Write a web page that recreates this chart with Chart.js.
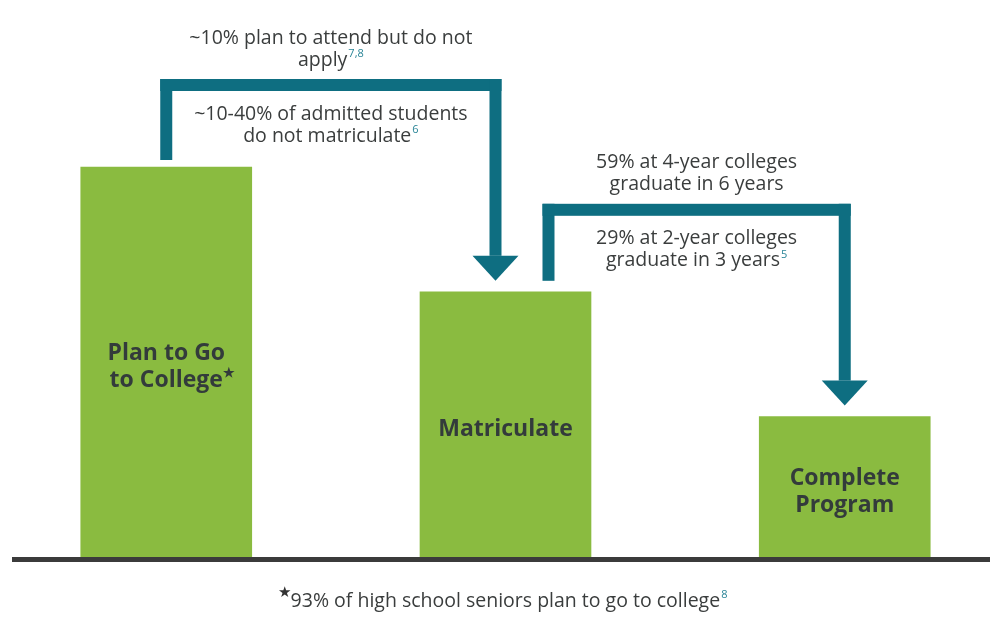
<!DOCTYPE html>
<html>
<head>
<meta charset="utf-8">
<script src="https://cdn.jsdelivr.net/npm/chart.js@4.4.0/dist/chart.umd.min.js"></script>
<style>
  html, body { margin: 0; padding: 0; background: #fff; }
  #wrap { width: 1008px; height: 632px; position: relative; }
</style>
</head>
<body>
<div id="wrap"><canvas id="funnelChart"></canvas></div>
<script>
// Data
var categories = ['Plan to Go to College', 'Matriculate', 'Complete Program'];
var barLabels = [['Plan to Go', 'to College'], ['Matriculate'], ['Complete', 'Program']];
var values = [100, 68, 36];

// notes above / below each arrow, with superscript refs
var notesAbove = [
    [['~10% plan to attend but do not', ''], ['apply', '7,8']],
    [['59% at 4-year colleges', ''], ['graduate in 6 years', '']]
];
var notesBelow = [
    [['~10-40% of admitted students', ''], ['do not matriculate', '6']],
    [['29% at 2-year colleges', ''], ['graduate in 3 years', '5']]
];
var footnote = ['93% of high school seniors plan to go to college', '8'];

var GREEN = '#8abb40';
var TEAL = '#0e6e81';
var TEXT = '#3a3d3d';
var FONT = '"Open Sans", sans-serif';
var NOTE_SIZE = 19.5;

function lineWithSup(ctx, text, sup, cx, cy, size) {
    ctx.font = size + 'px ' + FONT;
    var w = ctx.measureText(text).width;
    ctx.font = Math.round(size * 0.55) + 'px ' + FONT;
    var sw = sup ? ctx.measureText(sup).width + 1 : 0;
    var x = cx - (w + sw) / 2;
    ctx.textAlign = 'left';
    ctx.textBaseline = 'middle';
    ctx.fillStyle = TEXT;
    ctx.font = size + 'px ' + FONT;
    ctx.fillText(text, x, cy);
    if (sup) {
        ctx.fillStyle = '#2a8597';
        ctx.font = Math.round(size * 0.55) + 'px ' + FONT;
        ctx.fillText(sup, x + w + 1, cy - size * 0.33);
    }
}

function drawArrow(ctx, x1, yStart, yTop, x2, yTip) {
    var t = 12, h = t / 2;
    ctx.fillStyle = TEAL;
    ctx.fillRect(x1 - h, yTop - h, t, yStart - yTop + h);
    ctx.fillRect(x1 - h, yTop - h, x2 - x1 + t, t);
    ctx.fillRect(x2 - h, yTop - h, t, yTip - 25 - yTop + h);
    ctx.beginPath();
    ctx.moveTo(x2 - 23, yTip - 25);
    ctx.lineTo(x2 + 23, yTip - 25);
    ctx.lineTo(x2, yTip);
    ctx.closePath();
    ctx.fill();
}

var funnelPlugin = {
    id: 'funnelDecor',
    afterDatasetsDraw: function(chart) {
        var ctx = chart.ctx;
        var bars = chart.getDatasetMeta(0).data;
        var area = chart.chartArea;
        var y0 = chart.scales.y.getPixelForValue(0);
        ctx.save();

        // baseline
        ctx.fillStyle = '#3b3b3b';
        ctx.fillRect(area.left, y0, area.right - area.left, 5);

        // labels inside bars
        bars.forEach(function(bar, i) {
            var lines = barLabels[i];
            var mid = (bar.y + y0) / 2 + 5;
            ctx.font = 'bold 23px ' + FONT;
            ctx.fillStyle = '#333b3b';
            ctx.textAlign = 'center';
            ctx.textBaseline = 'middle';
            lines.forEach(function(l, k) {
                var ly = mid + (k - (lines.length - 1) / 2) * 27;
                ctx.fillText(l, bar.x, ly);
                if (i === 0 && k === lines.length - 1) {
                    var w = ctx.measureText(l).width;
                    ctx.font = 'bold 13px ' + FONT;
                    ctx.fillText('\u2605', bar.x + w / 2 + 6, ly - 7);
                    ctx.font = 'bold 23px ' + FONT;
                }
            });
        });

        // arrows between bars
        var starts = [0, 43];
        var ends = [-10, 0];
        var gaps = [7, 11];
        for (var i = 0; i < bars.length - 1; i++) {
            var a = bars[i], b = bars[i + 1];
            var x1 = a.x + starts[i];
            var x2 = b.x + ends[i];
            var yTop = a.y - 82;
            drawArrow(ctx, x1, a.y - gaps[i], yTop, x2, b.y - 11);
            var cx = (x1 + x2) / 2;
            notesAbove[i].forEach(function(n, k) {
                lineWithSup(ctx, n[0], n[1], cx, yTop - 47 + k * 22, NOTE_SIZE);
            });
            notesBelow[i].forEach(function(n, k) {
                lineWithSup(ctx, n[0], n[1], cx, yTop + 29 + k * 22, NOTE_SIZE);
            });
        }

        // footnote
        ctx.font = NOTE_SIZE + 'px ' + FONT;
        var fw = ctx.measureText(footnote[0]).width;
        var fcx = (area.left + area.right) / 2 + 8;
        lineWithSup(ctx, footnote[0], footnote[1], fcx, 601, NOTE_SIZE);
        ctx.fillStyle = '#333';
        ctx.font = '15px ' + FONT;
        ctx.textAlign = 'right';
        ctx.fillText('\u2605', fcx - fw / 2 - 3, 593);

        ctx.restore();
    }
};

var ctx = document.getElementById('funnelChart').getContext('2d');
var funnelChart = new Chart(ctx, {
    type: 'bar',
    data: {
        labels: categories,
        datasets: [{
            data: values.map(function(v, i) { return { x: i, y: v }; }),
            backgroundColor: GREEN,
            borderWidth: 0,
            barThickness: 171
        }]
    },
    options: {
        responsive: true,
        maintainAspectRatio: false,
        animation: false,
        layout: { padding: { top: 11, bottom: 75, left: 12, right: 18 } },
        scales: {
            x: { type: 'linear', offset: false, min: -0.4547, max: 2.4282, display: false },
            y: { min: 0, max: 140, display: false }
        },
        plugins: {
            legend: { display: false },
            tooltip: { enabled: false }
        }
    },
    plugins: [funnelPlugin]
});
</script>
</body>
</html>
